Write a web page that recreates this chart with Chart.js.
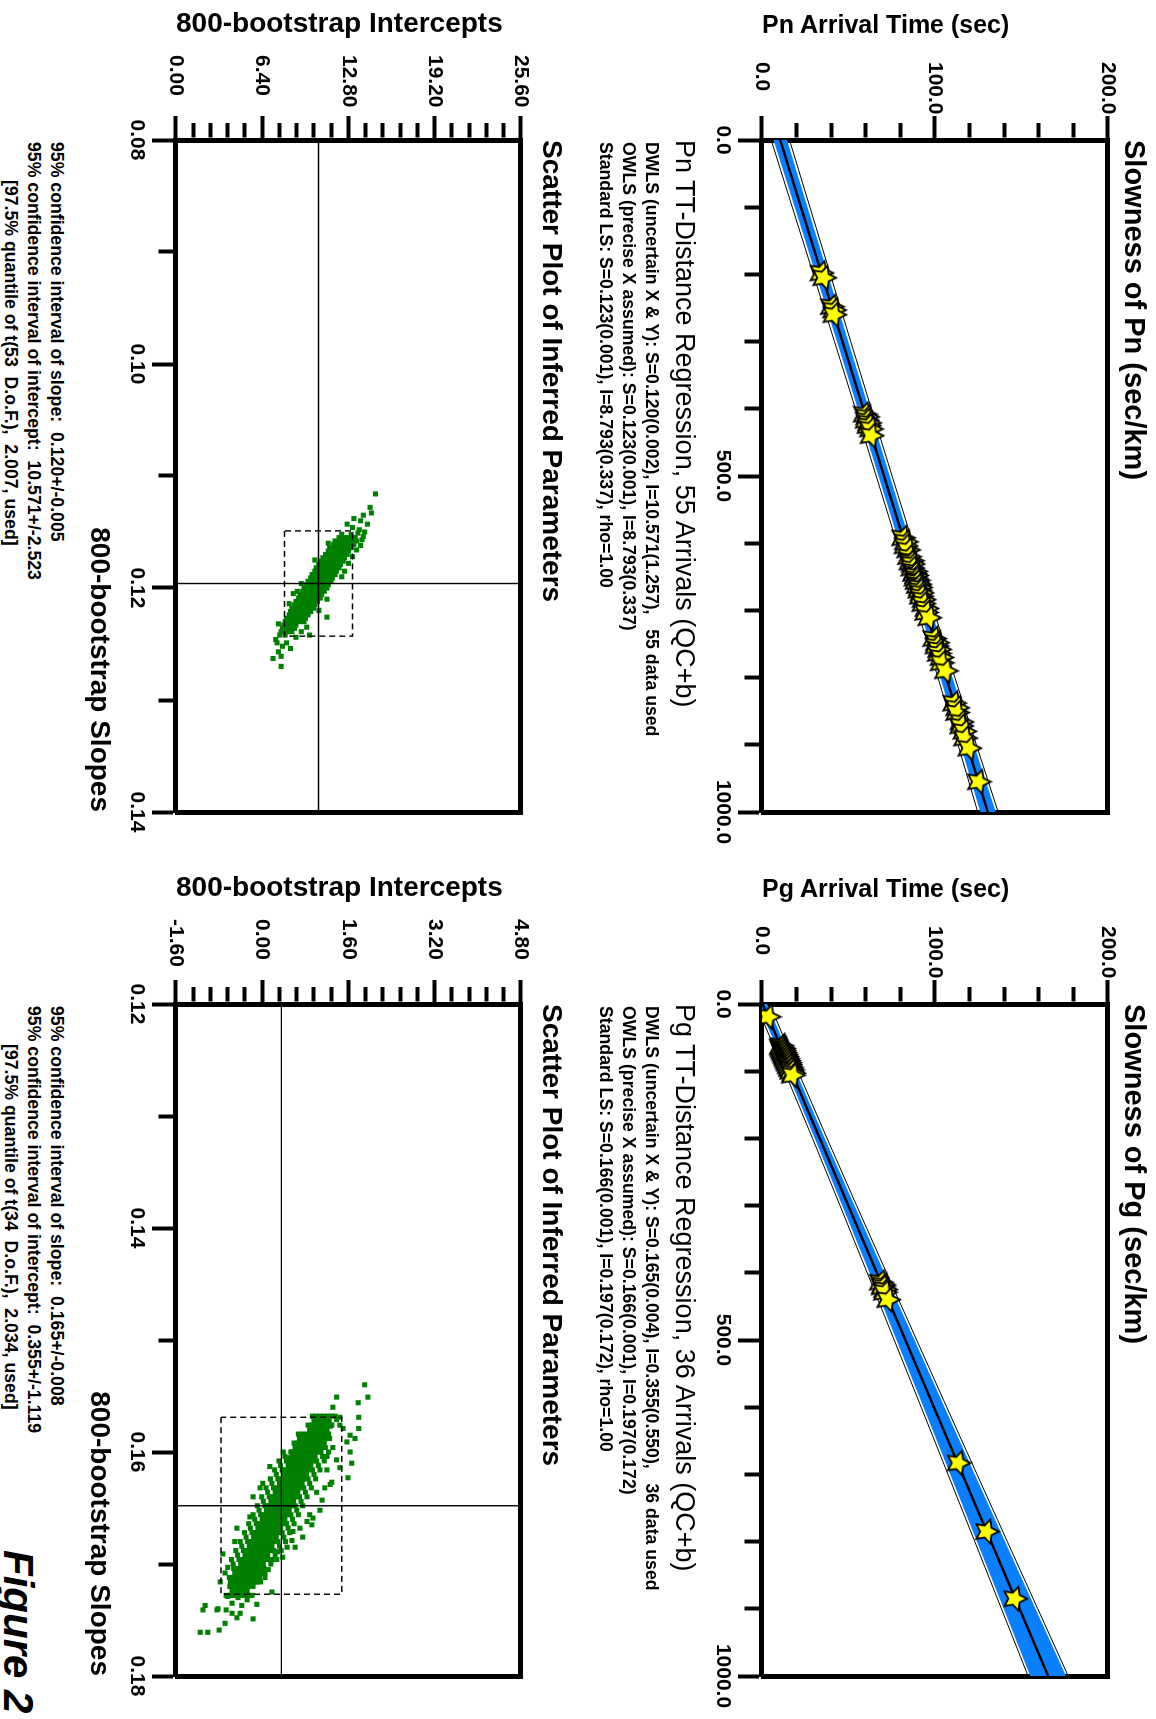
<!doctype html>
<html lang="en">
<head>
<meta charset="UTF-8" />
<title>Figure 2 - TT-Distance Regression</title>
<script src="https://cdn.jsdelivr.net/npm/chart.js@4"></script>
<style>
  html, body { margin: 0; padding: 0; background: #fff; overflow: hidden; }
  body { width: 1156px; height: 1719px; position: relative; }
  /* the whole figure is laid out landscape and turned a quarter clockwise */
  #fig {
    position: absolute; left: 0; top: 0; width: 1719px; height: 1156px;
    transform-origin: 0 0; transform: translate(1156px, 0) rotate(90deg);
    font-family: "Liberation Sans", Arial, sans-serif; color: #000;
  }
  #fig canvas { position: absolute; }
  .t { position: absolute; white-space: pre; line-height: 1; }
  .b { font-weight: bold; }
  .sm { font-size: 17.7px; font-weight: bold; }
  .up { transform-origin: 0 0; transform: rotate(-90deg); }
</style>
</head>
<body>
<div id="fig">
  <canvas id="pnReg" width="860" height="470" style="left:0;top:0"></canvas>
  <canvas id="pnBoot" width="860" height="470" style="left:0;top:590px"></canvas>
  <canvas id="pgReg" width="850" height="470" style="left:864px;top:0"></canvas>
  <canvas id="pgBoot" width="850" height="470" style="left:864px;top:590px"></canvas>

  <div class="t b" style="left:140px;top:7px;font-size:29px">Slowness of Pn (sec/km)</div>
  <div class="t b up" style="left:12px;top:394px;font-size:25px">Pn Arrival Time (sec)</div>
  <div class="t" style="left:140px;top:458px;font-size:27px">Pn TT-Distance Regression, 55 Arrivals (QC+b)</div>
  <div class="t sm" style="left:142px;top:496px">DWLS (uncertain X &amp; Y): S=0.120(0.002), I=10.571(1.257),   55 data used</div>
  <div class="t sm" style="left:142px;top:519px">OWLS (precise X assumed): S=0.123(0.001), I=8.793(0.337)</div>
  <div class="t sm" style="left:142px;top:542px">Standard LS: S=0.123(0.001), I=8.793(0.337), rho=1.00</div>
  <div class="t b" style="left:140px;top:590px;font-size:28px">Scatter Plot of Inferred Parameters</div>
  <div class="t b up" style="left:9px;top:980px;font-size:28px">800-bootstrap Intercepts</div>
  <div class="t b" style="left:0;width:812px;text-align:right;top:1042px;font-size:28px">800-bootstrap Slopes</div>
  <div class="t sm" style="left:142px;top:1091px">95% confidence interval of slope:  0.120+/-0.005</div>
  <div class="t sm" style="left:142px;top:1114px">95% confidence interval of intercept:  10.571+/-2.523</div>
  <div class="t sm" style="left:180px;top:1137px">[97.5% quantile of t(53  D.o.F.),  2.007, used]</div>

  <div class="t b" style="left:1004px;top:7px;font-size:29px">Slowness of Pg (sec/km)</div>
  <div class="t b up" style="left:876px;top:394px;font-size:25px">Pg Arrival Time (sec)</div>
  <div class="t" style="left:1004px;top:458px;font-size:27px">Pg TT-Distance Regression, 36 Arrivals (QC+b)</div>
  <div class="t sm" style="left:1006px;top:496px">DWLS (uncertain X &amp; Y): S=0.165(0.004), I=0.355(0.550),   36 data used</div>
  <div class="t sm" style="left:1006px;top:519px">OWLS (precise X assumed): S=0.166(0.001), I=0.197(0.172)</div>
  <div class="t sm" style="left:1006px;top:542px">Standard LS: S=0.166(0.001), I=0.197(0.172), rho=1.00</div>
  <div class="t b" style="left:1004px;top:590px;font-size:28px">Scatter Plot of Inferred Parameters</div>
  <div class="t b up" style="left:873px;top:980px;font-size:28px">800-bootstrap Intercepts</div>
  <div class="t b" style="left:864px;width:812px;text-align:right;top:1042px;font-size:28px">800-bootstrap Slopes</div>
  <div class="t sm" style="left:1006px;top:1091px">95% confidence interval of slope:  0.165+/-0.008</div>
  <div class="t sm" style="left:1006px;top:1114px">95% confidence interval of intercept:  0.355+/-1.119</div>
  <div class="t sm" style="left:1044px;top:1137px">[97.5% quantile of t(34  D.o.F.),  2.034, used]</div>

  <div class="t b" style="left:1550px;top:1117px;font-size:42px;font-style:italic">Figure 2</div>
</div>

<script>
// ---- axes ----
const distTicks = [0, 100, 200, 300, 400, 500, 600, 700, 800, 900, 1000];
const distLabels = [0, 500, 1000];
const timeTicks = [0, 20, 40, 60, 80, 100, 120, 140, 160, 180, 200];
const timeLabels = [0, 100, 200];
const pnSlopeTicks = [0.08, 0.09, 0.10, 0.11, 0.12, 0.13, 0.14];
const pnSlopeLabels = [0.08, 0.10, 0.12, 0.14];
const pnIntTicks = [0, 1.28, 2.56, 3.84, 5.12, 6.4, 7.68, 8.96, 10.24, 11.52, 12.8,
  14.08, 15.36, 16.64, 17.92, 19.2, 20.48, 21.76, 23.04, 24.32, 25.6];
const pnIntLabels = [0, 6.4, 12.8, 19.2, 25.6];
const pgSlopeTicks = [0.12, 0.13, 0.14, 0.15, 0.16, 0.17, 0.18];
const pgSlopeLabels = [0.12, 0.14, 0.16, 0.18];
const pgIntTicks = [-1.6, -1.28, -0.96, -0.64, -0.32, 0, 0.32, 0.64, 0.96, 1.28, 1.6,
  1.92, 2.24, 2.56, 2.88, 3.2, 3.52, 3.84, 4.16, 4.48, 4.8];
const pgIntLabels = [-1.6, 0, 1.6, 3.2, 4.8];

// ---- Pn arrivals (distance km, time s) ----
const pnDist = [198, 205, 248, 253, 260, 408, 412, 417, 421, 425, 430, 440,
  592, 598, 604, 610, 620, 626, 628, 631, 637, 642, 645, 648, 652, 655, 657, 661,
  663, 666, 670, 674, 679, 684, 690, 697, 703, 711, 742, 748, 753, 758, 764, 770,
  778, 790, 838, 845, 852, 866, 872, 880, 890, 905, 955];
const pnTime = [34.0, 35.6, 40.0, 41.3, 41.5, 59.0, 60.4, 60.1, 61.5, 61.2, 62.6, 63.0,
  81.2, 82.8, 82.6, 84.1, 84.6, 86.2, 85.5, 86.7, 86.5, 88.1, 87.6, 88.8, 88.3, 89.6, 89.0, 90.4,
  89.7, 91.0, 90.6, 91.9, 91.5, 93.0, 92.9, 94.7, 94.5, 96.3, 99.2, 100.8, 100.5, 102.0, 101.8, 103.4,
  103.5, 105.9, 110.7, 112.4, 112.4, 114.9, 114.8, 116.6, 117.0, 119.5, 125.0];

// ---- Pg arrivals ----
const pgDist = [19, 62, 64, 66, 67, 69, 70, 72, 73, 75, 76, 78, 79, 81, 82, 84, 85, 87, 88,
  90, 92, 94, 96, 98, 100, 103, 106, 414, 418, 421, 425, 429, 440, 683, 785, 885];
const pgTime = [3.5, 10.9, 10.5, 11.6, 11.0, 12.1, 11.5, 12.6, 12.0, 13.1, 12.5, 13.6, 13.0,
  14.1, 13.5, 14.6, 14.0, 15.1, 14.5, 15.6, 15.1, 16.2, 15.8, 16.9, 16.5, 17.8, 17.5,
  68.3, 69.8, 69.4, 70.9, 70.7, 72.6, 113.3, 129.7, 146.0];

// ---- fitted lines and bands (time s at bandDist) ----
const lineDist = [0, 1000];
const pnLine = [10.571, 130.571];
const pgLine = [0.355, 165.355];
const bandDist = [0, 100, 200, 300, 400, 500, 600, 700, 800, 900, 1000];
const pnBandLow = [6.7, 18.9, 31.1, 43.3, 55.4, 67.4, 79.4, 91.3, 103.1, 114.7, 126.1];
const pnBandHigh = [14.5, 26.3, 38.1, 49.9, 61.8, 73.8, 85.8, 97.9, 110.1, 122.5, 135.1];
const pnOuterLow = [5.3, 17.5, 29.7, 41.9, 54.0, 66.0, 78.0, 89.9, 101.7, 113.3, 124.7];
const pnOuterHigh = [15.9, 27.7, 39.5, 51.3, 63.2, 75.2, 87.2, 99.3, 111.5, 123.9, 136.5];
const pgBandLow = [-2.3, 14.3, 30.5, 46.4, 62.1, 77.7, 93.3, 108.8, 124.3, 139.7, 155.1];
const pgBandHigh = [3.1, 19.5, 36.3, 53.4, 70.7, 88.1, 105.5, 123.0, 140.5, 158.1, 175.7];
const pgOuterLow = [-3.6, 13.0, 29.2, 45.1, 60.8, 76.4, 92.0, 107.5, 123.0, 138.4, 153.8];
const pgOuterHigh = [4.4, 20.8, 37.6, 54.7, 72.0, 89.4, 106.8, 124.3, 141.8, 159.4, 177.0];

// ---- bootstrap estimates: centre and 95% half widths [slope, intercept] ----
const pnCenter = [0.1196, 10.571];
const pnHalf = [0.0047, 2.523];
const pgCenter = [0.1648, 0.355];
const pgHalf = [0.0079, 1.119];

// rows: [slope, intercept, intercept, ...]
const pnBootRows = [
  [0.1151, 13.5], [0.1152, 12.3, 13.0], [0.1155, 12.1, 12.4, 12.7, 13.0, 13.3],
  [0.1158, 11.8, 12.1, 12.4, 12.65, 12.9, 13.15, 13.4],
  [0.1161, 11.7, 11.95, 12.2, 12.5, 12.8, 13.0, 13.2],
  [0.1164, 11.4, 11.7, 12.0, 12.25, 12.5, 12.75, 13.0],
  [0.1167, 11.3, 11.55, 11.8, 12.05, 12.3, 12.55, 12.8],
  [0.1170, 11.1, 11.4, 11.7, 11.95, 12.2, 12.45, 12.7],
  [0.1173, 10.9, 11.2, 11.5, 11.75, 12.0, 12.25, 12.5],
  [0.1176, 10.8, 11.05, 11.3, 11.6, 11.9, 12.15, 12.4],
  [0.1179, 10.6, 10.85, 11.1, 11.4, 11.7, 11.95, 12.2],
  [0.1182, 10.4, 10.7, 11.0, 11.25, 11.5, 11.8, 12.1],
  [0.1185, 10.3, 10.55, 10.8, 11.1, 11.4, 11.65, 11.9],
  [0.1188, 10.1, 10.4, 10.7, 10.95, 11.2, 11.5, 11.8],
  [0.1191, 10.0, 10.25, 10.5, 10.8, 11.1, 11.35, 11.6],
  [0.1194, 9.8, 10.1, 10.4, 10.65, 10.9, 11.2, 11.5],
  [0.1197, 9.7, 9.95, 10.2, 10.5, 10.8, 11.05, 11.3],
  [0.1200, 9.5, 9.8, 10.1, 10.35, 10.6, 10.9, 11.2],
  [0.1203, 9.4, 9.65, 9.9, 10.15, 10.4, 10.7, 11.0],
  [0.1206, 9.2, 9.45, 9.7, 10.0, 10.3, 10.55, 10.8],
  [0.1209, 9.1, 9.35, 9.6, 9.85, 10.1, 10.4, 10.7],
  [0.1212, 8.9, 9.15, 9.4, 9.7, 10.0, 10.25, 10.5],
  [0.1215, 8.8, 9.05, 9.3, 9.55, 9.8, 10.05, 10.3],
  [0.1218, 8.6, 8.85, 9.1, 9.4, 9.7, 9.95, 10.2],
  [0.1221, 8.5, 8.75, 9.0, 9.25, 9.5, 9.75, 10.0],
  [0.1224, 8.4, 8.6, 8.8, 9.05, 9.3, 9.55, 9.8],
  [0.1227, 8.2, 8.45, 8.7, 8.95, 9.2, 9.4, 9.6],
  [0.1230, 8.1, 8.3, 8.5, 8.75, 9.0, 9.25, 9.5],
  [0.1233, 8.0, 8.2, 8.4, 8.65, 8.9],
  [0.1236, 7.9, 8.1, 8.3, 8.55, 8.8],
  [0.1239, 7.8, 8.0, 8.2, 8.4, 8.6], [0.1242, 7.7, 8.1]
];
const pnBootLoose = [
  [0.1116, 14.8], [0.1128, 14.4], [0.1133, 14.5], [0.1135, 13.9], [0.1138, 13.2],
  [0.1140, 13.7], [0.1143, 14.2], [0.1143, 12.7], [0.1146, 13.1], [0.1148, 13.6],
  [0.1150, 14.0], [0.1154, 13.9], [0.1157, 13.8], [0.1160, 11.3], [0.1162, 13.7],
  [0.1166, 13.4], [0.1172, 13.1], [0.1175, 10.3], [0.1178, 12.8], [0.1185, 12.5],
  [0.1190, 12.3], [0.1196, 9.3], [0.1203, 9.0], [0.1205, 8.7], [0.1210, 11.2],
  [0.1214, 8.4], [0.1220, 10.6], [0.1226, 11.2], [0.1232, 7.6], [0.1235, 9.7],
  [0.1239, 9.3], [0.1242, 9.9], [0.1244, 8.9], [0.1246, 7.4], [0.1249, 7.5],
  [0.1249, 8.2], [0.1252, 7.9], [0.1254, 8.5], [0.1257, 7.6], [0.1261, 7.8],
  [0.1263, 7.2], [0.1270, 7.8]
];

const pgBootRows = [
  [0.1568, 0.93, 1.07, 1.21, 1.35], [0.1572, 0.96, 1.10, 1.24],
  [0.1576, 0.85, 0.99, 1.13, 1.27], [0.1580, 0.88, 1.02, 1.16],
  [0.1584, 0.67, 0.81, 0.95, 1.09, 1.23], [0.1588, 0.69, 0.83, 0.97, 1.11, 1.25],
  [0.1592, 0.59, 0.73, 0.87, 1.01, 1.15], [0.1596, 0.61, 0.75, 0.89, 1.03, 1.17],
  [0.1600, 0.39, 0.53, 0.67, 0.81, 0.95, 1.09, 1.23], [0.1604, 0.42, 0.56, 0.70, 0.84, 0.98, 1.12],
  [0.1608, 0.31, 0.45, 0.59, 0.73, 0.87, 1.01, 1.15], [0.1612, 0.34, 0.48, 0.62, 0.76, 0.90, 1.04],
  [0.1616, 0.23, 0.37, 0.51, 0.65, 0.79, 0.93, 1.07], [0.1620, 0.26, 0.40, 0.54, 0.68, 0.82, 0.96],
  [0.1624, 0.15, 0.29, 0.43, 0.57, 0.71, 0.85, 0.99], [0.1628, 0.18, 0.32, 0.46, 0.60, 0.74, 0.88],
  [0.1632, 0.07, 0.21, 0.35, 0.49, 0.63, 0.77, 0.91], [0.1636, 0.10, 0.24, 0.38, 0.52, 0.66, 0.80],
  [0.1640, -0.01, 0.13, 0.27, 0.41, 0.55, 0.69, 0.83], [0.1644, 0.02, 0.16, 0.30, 0.44, 0.58, 0.72],
  [0.1648, -0.09, 0.05, 0.19, 0.33, 0.47, 0.61, 0.75], [0.1652, -0.06, 0.08, 0.22, 0.36, 0.50, 0.64],
  [0.1656, -0.17, -0.03, 0.11, 0.25, 0.39, 0.53, 0.67], [0.1660, -0.14, 0.00, 0.14, 0.28, 0.42, 0.56],
  [0.1664, -0.25, -0.11, 0.03, 0.17, 0.31, 0.45, 0.59], [0.1668, -0.22, -0.08, 0.06, 0.20, 0.34, 0.48],
  [0.1672, -0.33, -0.19, -0.05, 0.09, 0.23, 0.37, 0.51], [0.1676, -0.30, -0.16, -0.02, 0.12, 0.26, 0.40],
  [0.1680, -0.41, -0.27, -0.13, 0.01, 0.15, 0.29, 0.43], [0.1684, -0.38, -0.24, -0.10, 0.04, 0.18, 0.32],
  [0.1688, -0.49, -0.35, -0.21, -0.07, 0.07, 0.21, 0.35], [0.1692, -0.46, -0.32, -0.18, -0.04, 0.10, 0.24],
  [0.1696, -0.57, -0.43, -0.29, -0.15, -0.01, 0.13, 0.27], [0.1700, -0.54, -0.40, -0.26, -0.12, 0.02, 0.16],
  [0.1704, -0.53, -0.39, -0.25, -0.11, 0.03], [0.1708, -0.51, -0.37, -0.23, -0.09, 0.05],
  [0.1712, -0.61, -0.47, -0.33, -0.19, -0.05], [0.1716, -0.59, -0.45, -0.31, -0.17, -0.03],
  [0.1720, -0.59, -0.45, -0.31, -0.17], [0.1724, -0.56, -0.42, -0.28],
  [0.1728, -0.67, -0.53, -0.39, -0.25]
];
// the solid middle of the Pg cloud, between the points above
const pgBootInner = [
  [0.1568, 1.00, 1.14, 1.28], [0.1572, 1.03, 1.17], [0.1576, 0.92, 1.06, 1.20], [0.1580, 0.95, 1.09],
  [0.1584, 0.74, 0.88, 1.02, 1.16], [0.1588, 0.76, 0.90, 1.04, 1.18],
  [0.1592, 0.66, 0.80, 0.94, 1.08], [0.1596, 0.68, 0.82, 0.96, 1.10],
  [0.1600, 0.60, 0.74, 0.88, 1.02], [0.1604, 0.63, 0.77, 0.91],
  [0.1608, 0.52, 0.66, 0.80, 0.94], [0.1612, 0.55, 0.69, 0.83],
  [0.1616, 0.44, 0.58, 0.72, 0.86], [0.1620, 0.47, 0.61, 0.75],
  [0.1624, 0.36, 0.50, 0.64, 0.78], [0.1628, 0.39, 0.53, 0.67],
  [0.1632, 0.28, 0.42, 0.56, 0.70], [0.1636, 0.31, 0.45, 0.59],
  [0.1640, 0.20, 0.34, 0.48, 0.62], [0.1644, 0.23, 0.37, 0.51],
  [0.1648, 0.12, 0.26, 0.40, 0.54], [0.1652, 0.15, 0.29, 0.43],
  [0.1656, 0.04, 0.18, 0.32, 0.46], [0.1660, 0.07, 0.21, 0.35],
  [0.1664, -0.04, 0.10, 0.24, 0.38], [0.1668, -0.01, 0.13, 0.27],
  [0.1672, -0.12, 0.02, 0.16, 0.30], [0.1676, -0.09, 0.05, 0.19],
  [0.1680, -0.20, -0.06, 0.08, 0.22], [0.1684, -0.17, -0.03, 0.11],
  [0.1688, -0.28, -0.14, 0.00, 0.14], [0.1692, -0.25, -0.11, 0.03],
  [0.1696, -0.36, -0.22, -0.08, 0.06], [0.1700, -0.33, -0.19, -0.05],
  [0.1704, -0.46, -0.32, -0.18, -0.04], [0.1708, -0.44, -0.30, -0.16, -0.02],
  [0.1712, -0.54, -0.40, -0.26, -0.12], [0.1716, -0.52, -0.38, -0.24, -0.10],
  [0.1720, -0.52, -0.38, -0.24], [0.1724, -0.49, -0.35], [0.1728, -0.60, -0.46, -0.32]
];
const pgBootLoose = [
  [0.1540, 1.90], [0.1551, 1.38], [0.1551, 1.96], [0.1556, 1.78], [0.1560, 1.31],
  [0.1569, 1.79], [0.1569, 1.44], [0.1571, 1.38], [0.1576, 1.29], [0.1576, 1.44],
  [0.1577, 1.26], [0.1579, 1.79], [0.1579, 1.50], [0.1580, 1.20], [0.1585, 1.63],
  [0.1585, 0.70], [0.1587, 0.92], [0.1587, 1.07], [0.1588, 1.72], [0.1591, 0.85],
  [0.1591, 1.57], [0.1596, 1.31], [0.1600, 1.63], [0.1600, 0.57], [0.1604, 1.20],
  [0.1605, 0.48], [0.1607, 1.38], [0.1610, 1.66], [0.1613, 0.14], [0.1614, 1.44],
  [0.1616, 1.20], [0.1616, 0.38], [0.1623, 1.59], [0.1627, 1.29], [0.1628, 0.01],
  [0.1629, 1.26], [0.1632, 1.16], [0.1632, -0.04], [0.1636, 1.01], [0.1640, -0.17],
  [0.1643, 1.11], [0.1652, 1.07], [0.1656, 0.88], [0.1658, -0.23], [0.1659, 0.94],
  [0.1662, 0.83], [0.1665, 0.92], [0.1668, 0.70], [0.1668, -0.47], [0.1671, 0.57],
  [0.1676, 0.75], [0.1679, 0.55], [0.1680, -0.51], [0.1685, 0.46], [0.1685, 0.61],
  [0.1689, 0.29], [0.1691, -0.73], [0.1694, 0.38], [0.1696, 0.18], [0.1703, -0.64],
  [0.1705, 0.11], [0.1708, -0.69], [0.1708, -0.04], [0.1712, 0.05], [0.1716, -0.78],
  [0.1716, -0.10], [0.1720, -0.60], [0.1720, -0.41], [0.1725, 0.18], [0.1728, -0.19],
  [0.1729, -0.64], [0.1730, -0.45], [0.1732, -0.28], [0.1735, -0.56], [0.1736, -0.10],
  [0.1737, -0.38], [0.1737, -1.06], [0.1740, -0.82], [0.1741, -1.10], [0.1741, -0.67],
  [0.1741, -0.84], [0.1744, -0.41], [0.1744, -0.56], [0.1748, -0.47], [0.1749, -0.17],
  [0.1753, -0.69], [0.1759, -0.80], [0.1761, -1.01], [0.1761, -1.15]
];

Chart.defaults.font.family = '"Liberation Sans", Arial, sans-serif';
Chart.defaults.color = '#000';

const pts = (xs, ys) => xs.map((x, i) => ({ x, y: ys[i] }));
const isIn = (arr, v) => arr.some(a => Math.abs(a - v) < 1e-9);
const fromRows = rows => rows.flatMap(r => r.slice(1).map(b => ({ x: r[0], y: b })));

// filled yellow star used as the arrival marker
function starImage(r) {
  const c = document.createElement('canvas');
  const s = Math.ceil(2 * r + 4);
  c.width = s; c.height = s;
  const g = c.getContext('2d');
  g.translate(s / 2, s / 2);
  g.beginPath();
  for (let i = 0; i < 10; i++) {
    const rr = i % 2 ? r * 0.5 : r;
    const a = -Math.PI / 2 + i * Math.PI / 5;
    g.lineTo(rr * Math.cos(a), rr * Math.sin(a));
  }
  g.closePath();
  g.fillStyle = '#ffff00';
  g.fill();
  g.lineWidth = 1.8;
  g.strokeStyle = '#000';
  g.stroke();
  return c;
}
const star = starImage(12.5);

function axis(pos, min, max, ticks, labels, digits, size) {
  const left = pos === 'left';
  return {
    type: 'linear', position: pos, min, max,
    afterBuildTicks: s => { s.ticks = ticks.map(v => ({ value: v })); },
    afterFit: s => { if (left) s.width = size; else s.height = size; },
    ticks: {
      autoSkip: false, maxRotation: 0, padding: 3,
      crossAlign: left ? 'far' : 'near',
      font: { size: 21, weight: 'bold' },
      callback: v => isIn(labels, v) ? v.toFixed(digits) : ''
    },
    grid: {
      drawOnChartArea: false, drawTicks: true, tickLength: 24, tickWidth: 4, tickColor: '#000',
      tickBorderDash: c => (!c.tick || isIn(labels, c.tick.value)) ? [] : (left ? [0, 7, 14.5, 100] : [14.5, 100])
    },
    border: { width: 5, color: '#000' }
  };
}

function frame(pos) {
  return {
    type: 'linear', position: pos,
    ticks: { display: false },
    grid: { display: false, drawTicks: false },
    border: { width: 5, color: '#000' },
    afterFit: s => { if (pos === 'top') s.height = 0; else s.width = 0; }
  };
}

const baseOptions = (padRight, padTop, padBottom, padLeft) => ({
  responsive: false, animation: false, events: [],
  layout: { padding: { left: padLeft, right: padRight, top: padTop, bottom: padBottom } },
  plugins: { legend: { display: false }, tooltip: { enabled: false } }
});

function regression(id, dist, time, line, bLow, bHigh, oLow, oHigh, padRight) {
  const opts = baseOptions(padRight, 48, 16, 62);
  opts.scales = {
    x: axis('bottom', 0, 1000, distTicks, distLabels, 1, 60),
    y: axis('left', 0, 200, timeTicks, timeLabels, 1, 78),
    xTop: frame('top'),
    yRight: frame('right')
  };
  const thin = { type: 'line', borderColor: '#000', borderWidth: 1, pointRadius: 0, fill: false };
  new Chart(document.getElementById(id), {
    type: 'scatter',
    data: {
      datasets: [
        { type: 'scatter', data: pts(dist, time), pointStyle: star, pointRadius: 12 },
        { type: 'line', data: pts(lineDist, line), borderColor: '#000', borderWidth: 2.5, pointRadius: 0, fill: false },
        Object.assign({ data: pts(bandDist, oLow) }, thin),
        Object.assign({ data: pts(bandDist, oHigh) }, thin),
        { type: 'line', data: pts(bandDist, bLow), borderWidth: 0, pointRadius: 0, fill: false },
        { type: 'line', data: pts(bandDist, bHigh), borderWidth: 0, pointRadius: 0, fill: '-1', backgroundColor: '#0a80ff' }
      ]
    },
    options: opts
  });
}

function bootstrap(id, cloud, center, half, sTicks, sLabels, iTicks, iLabels, padRight) {
  const sMin = sTicks[0], sMax = sTicks[sTicks.length - 1];
  const iMin = iTicks[0], iMax = iTicks[iTicks.length - 1];
  const lo = [center[0] - half[0], center[1] - half[1]];
  const hi = [center[0] + half[0], center[1] + half[1]];
  const opts = baseOptions(padRight, 45, 20, 55);
  opts.scales = {
    x: axis('bottom', sMin, sMax, sTicks, sLabels, 2, 60),
    y: axis('left', iMin, iMax, iTicks, iLabels, 2, 85),
    xTop: frame('top'),
    yRight: frame('right')
  };
  const thin = { type: 'line', borderColor: '#000', borderWidth: 1.4, pointRadius: 0, fill: false };
  new Chart(document.getElementById(id), {
    type: 'scatter',
    data: {
      datasets: [
        Object.assign({ data: [{ x: center[0], y: iMin }, { x: center[0], y: iMax }] }, thin),
        Object.assign({ data: [{ x: sMin, y: center[1] }, { x: sMax, y: center[1] }] }, thin),
        Object.assign({
          data: [{ x: lo[0], y: lo[1] }, { x: hi[0], y: lo[1] }, { x: hi[0], y: hi[1] },
                 { x: lo[0], y: hi[1] }, { x: lo[0], y: lo[1] }],
          borderDash: [6, 4]
        }, thin),
        { type: 'scatter', data: cloud, pointStyle: 'rect', pointRadius: 3.6,
          backgroundColor: '#008000', borderWidth: 0 }
      ]
    },
    options: opts
  });
}

const pnCloud = fromRows(pnBootRows).concat(pnBootLoose.map(p => ({ x: p[0], y: p[1] })));
const pgCloud = fromRows(pgBootRows).concat(fromRows(pgBootInner), pgBootLoose.map(p => ({ x: p[0], y: p[1] })));

regression('pnReg', pnDist, pnTime, pnLine, pnBandLow, pnBandHigh, pnOuterLow, pnOuterHigh, 48);
regression('pgReg', pgDist, pgTime, pgLine, pgBandLow, pgBandHigh, pgOuterLow, pgOuterHigh, 38);
bootstrap('pnBoot', pnCloud, pnCenter, pnHalf, pnSlopeTicks, pnSlopeLabels, pnIntTicks, pnIntLabels, 48);
bootstrap('pgBoot', pgCloud, pgCenter, pgHalf, pgSlopeTicks, pgSlopeLabels, pgIntTicks, pgIntLabels, 38);
</script>
</body>
</html>
